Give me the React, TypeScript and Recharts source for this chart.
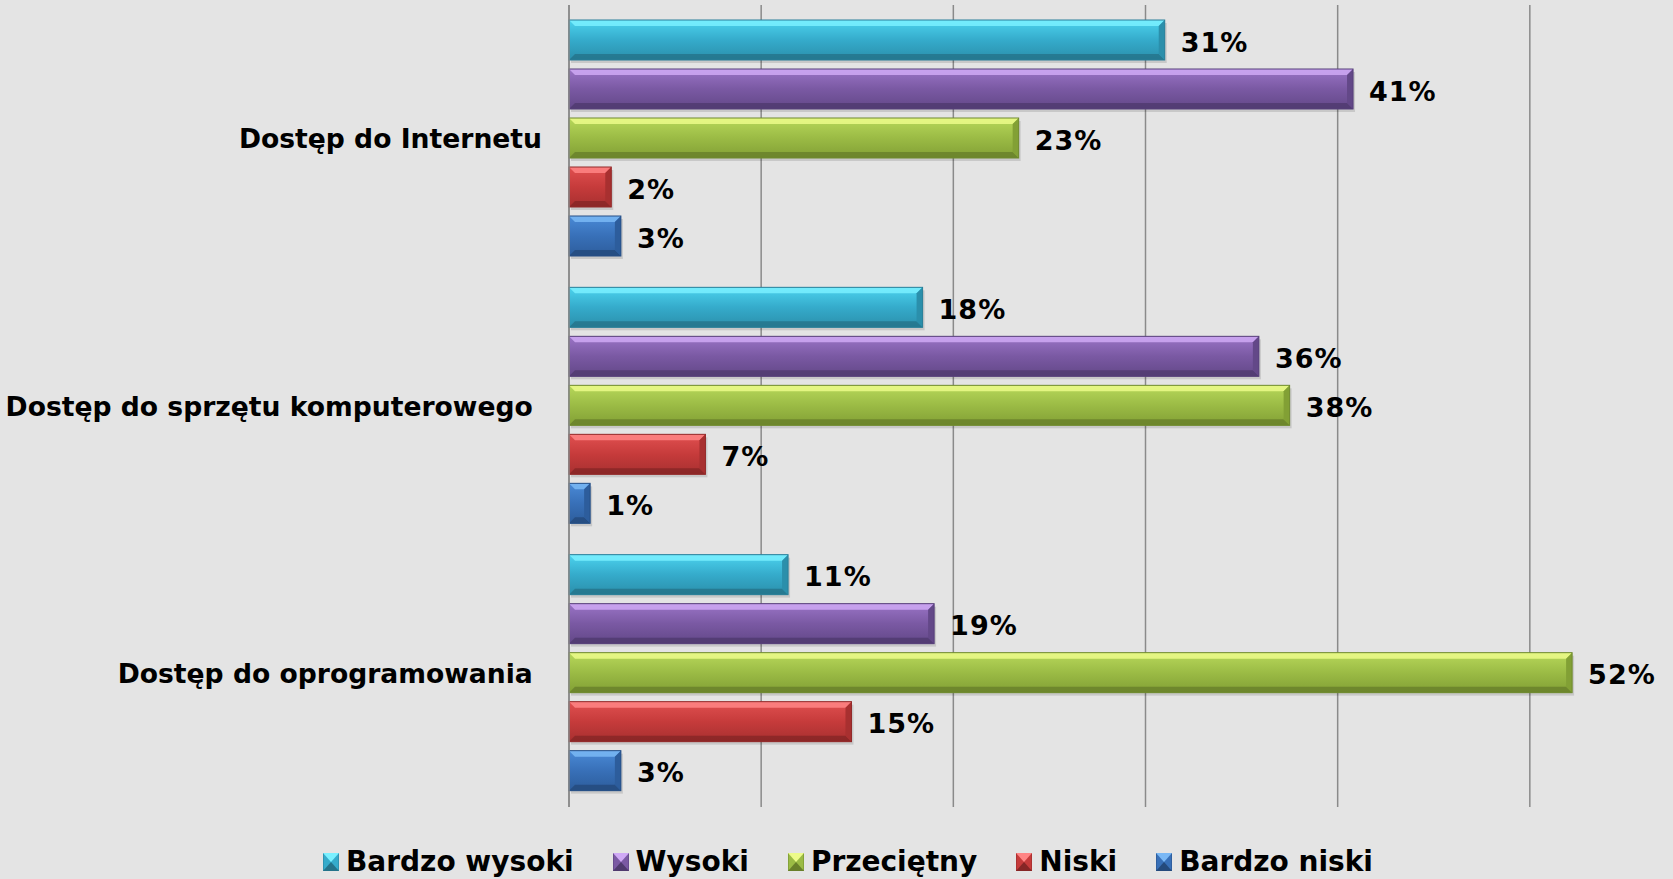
import { BarChart, Bar, XAxis, YAxis, CartesianGrid, LabelList } from 'recharts';

document.body.style.margin = '0';
document.body.style.background = '#E4E4E4';

// categories (trailing spaces kept as in the source sheet)
const categories = [
  'Dostęp do Internetu',
  'Dostęp do sprzętu komputerowego ',
  'Dostęp do oprogramowania ',
];

// shares in % (labels show them rounded)
const bardzoWysoki = [31.0, 18.4, 11.4];
const wysoki = [40.8, 35.9, 19.0];
const przecietny = [23.4, 37.5, 52.2];
const niski = [2.2, 7.1, 14.7];
const bardzoNiski = [2.7, 1.1, 2.7];

const xTicks = [0, 10, 20, 30, 40, 50, 60];

const data = categories.map((name, i) => ({
  name,
  bw: bardzoWysoki[i],
  w: wysoki[i],
  p: przecietny[i],
  n: niski[i],
  bn: bardzoNiski[i],
}));

type Palette = { id: string; top: string; main: string; bottom: string; light: string; dark: string; edge: string };

const palettes: Record<string, Palette> = {
  bw: { id: 'bw', top: '#4cd3ee', main: '#35abcb', bottom: '#2b8fab', light: '#7af0ff', dark: '#24738a', edge: '#2a7f99' },
  w: { id: 'w', top: '#9a74c6', main: '#7a59a3', bottom: '#634888', light: '#cfa9f5', dark: '#4f3a6e', edge: '#57407a' },
  p: { id: 'p', top: '#b7d85a', main: '#9bbb45', bottom: '#82a035', light: '#ecfb8a', dark: '#687f2a', edge: '#6f8a2f' },
  n: { id: 'n', top: '#e05050', main: '#c63b3b', bottom: '#a83030', light: '#ff8585', dark: '#862626', edge: '#922a2a' },
  bn: { id: 'bn', top: '#4a8ad6', main: '#3870b8', bottom: '#2d5d9c', light: '#7ab8f5', dark: '#244a7c', edge: '#264f86' },
};

const series = [
  { key: 'bw', name: 'Bardzo wysoki' },
  { key: 'w', name: 'Wysoki' },
  { key: 'p', name: 'Przeciętny' },
  { key: 'n', name: 'Niski' },
  { key: 'bn', name: 'Bardzo niski' },
];

const FONT = '"DejaVu Sans", Verdana, sans-serif';

function makeShape(c: Palette) {
  return (props: any) => {
    const { x, y, width: w, height: h } = props;
    if (!w || !h) return <g />;
    const b = Math.min(6, w / 2, h / 2);
    return (
      <g>
        <rect x={x + 2} y={y + 3} width={w} height={h} fill="#000" opacity={0.12} />
        <rect x={x} y={y} width={w} height={h} fill={`url(#grad-${c.id})`} />
        <polygon points={`${x},${y} ${x + w},${y} ${x + w - b},${y + b} ${x + b},${y + b}`} fill={c.light} opacity={0.85} />
        <polygon points={`${x},${y + h} ${x + w},${y + h} ${x + w - b},${y + h - b} ${x + b},${y + h - b}`} fill={c.dark} opacity={0.8} />
        <polygon points={`${x + w},${y} ${x + w},${y + h} ${x + w - b},${y + h - b} ${x + w - b},${y + b}`} fill={c.bottom} />
        <rect x={x} y={y} width={w} height={h} fill="none" stroke={c.edge} strokeWidth={1} />
      </g>
    );
  };
}

function CategoryTick({ x, y, payload }: any) {
  return (
    <text
      x={x}
      y={y}
      textAnchor="end"
      dominantBaseline="central"
      fontFamily={FONT}
      fontWeight="bold"
      fontSize={26.6}
      fill="#000"
      style={{ whiteSpace: 'pre' }}
    >
      {payload.value}
    </text>
  );
}

function LegendIcon({ c }: { c: Palette }) {
  return (
    <svg width={16} height={18} style={{ display: 'block' }}>
      <rect x={0} y={0} width={16} height={18} fill={c.main} stroke={c.edge} />
      <polygon points="0,0 16,0 8,9" fill={c.light} />
      <polygon points="0,18 16,18 8,9" fill={c.dark} />
    </svg>
  );
}

export default function App() {
  return (
    <div style={{ position: 'relative', width: 1673, height: 879, background: '#E4E4E4', overflow: 'hidden' }}>
      {/* the source chart is cropped on the right: the 60% line falls just outside the picture */}
      <BarChart
        width={1722}
        height={879}
        data={data}
        layout="vertical"
        margin={{ top: 5, right: 0, bottom: 72, left: 0 }}
        barCategoryGap={15}
        barGap={9}
      >
        <defs>
          {Object.values(palettes).map((c) => (
            <linearGradient key={c.id} id={`grad-${c.id}`} x1="0" y1="0" x2="0" y2="1">
              <stop offset="0%" stopColor={c.top} />
              <stop offset="50%" stopColor={c.main} />
              <stop offset="100%" stopColor={c.bottom} />
            </linearGradient>
          ))}
        </defs>
        <CartesianGrid horizontal={false} stroke="#8a8a8a" strokeWidth={1.5} />
        <XAxis type="number" domain={[0, 60]} ticks={xTicks} hide />
        <YAxis
          type="category"
          dataKey="name"
          width={569}
          axisLine={{ stroke: '#8a8a8a', strokeWidth: 1.5 }}
          tickLine={false}
          tickSize={0}
          tickMargin={27}
          tick={<CategoryTick />}
        />
        {series.map((s) => (
          <Bar
            key={s.key}
            dataKey={s.key}
            name={s.name}
            fill={palettes[s.key].main}
            shape={makeShape(palettes[s.key])}
            isAnimationActive={false}
          >
            <LabelList
              dataKey={s.key}
              position="right"
              offset={16}
              dy={2}
              formatter={(v: any) => `${Math.round(v)}%`}
              fill="#000"
              fontFamily={FONT}
              fontWeight="bold"
              fontSize={27}
              letterSpacing={1}
            />
          </Bar>
        ))}
      </BarChart>
      <div
        style={{
          position: 'absolute',
          top: 845,
          left: 323,
          display: 'flex',
          alignItems: 'center',
          gap: 39,
          fontFamily: FONT,
          fontWeight: 'bold',
          fontSize: 28,
          color: '#000',
          whiteSpace: 'nowrap',
        }}
      >
        {series.map((s) => (
          <div key={s.key} style={{ display: 'flex', alignItems: 'center', gap: 7 }}>
            <LegendIcon c={palettes[s.key]} />
            <span>{s.name}</span>
          </div>
        ))}
      </div>
    </div>
  );
}
